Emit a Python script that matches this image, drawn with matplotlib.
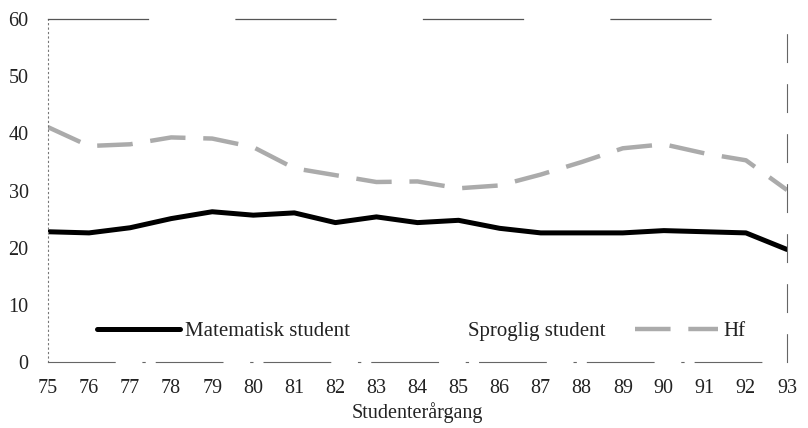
import matplotlib
matplotlib.use("Agg")
import matplotlib.pyplot as plt
from matplotlib.lines import Line2D

plt.rcParams['font.family'] = ['Liberation Serif', 'DejaVu Serif']

# data
years = [75, 76, 77, 78, 79, 80, 81, 82, 83, 84, 85, 86, 87, 88, 89, 90, 91, 92, 93]
matematisk = [22.8, 22.6, 23.5, 25.1, 26.3, 25.7, 26.1, 24.4, 25.4, 24.4, 24.8,
              23.4, 22.6, 22.6, 22.6, 23.0, 22.8, 22.6, 19.7]
hf = [41.1, 37.8, 38.1, 39.3, 39.1, 37.6, 33.9, 32.7, 31.5, 31.6, 30.4,
      30.9, 32.8, 35.0, 37.4, 38.1, 36.5, 35.3, 30.1]
y_ticks = [0, 10, 20, 30, 40, 50, 60]
labels = ['Matematisk student', 'Sproglig student', 'Hf']

fig = plt.figure(figsize=(8.08, 4.28), dpi=100)
ax = fig.add_axes([0.0594, 0.154, 0.9146, 0.8014])

l_mat, = ax.plot(years, matematisk, color='black', lw=3.6, solid_capstyle='round')
l_hf, = ax.plot(years, hf, color='#ababab', lw=3.2, dashes=(8, 4))

ax.set_xlim(75, 93)
ax.set_ylim(0, 60)
ax.set_xticks(years)
ax.set_xticklabels([str(y) for y in years])
ax.set_yticks(y_ticks)
ax.tick_params(length=0, labelsize=14.5, colors='#222222')
ax.tick_params(axis='x', pad=12)
ax.tick_params(axis='y', pad=14)

# scanned frame: broken, faint lines
ax.spines['top'].set_color('#555555')
ax.spines['top'].set_linewidth(0.9)
ax.spines['top'].set_linestyle((0, (80, 70)))
ax.spines['left'].set_color('#777777')
ax.spines['left'].set_linewidth(0.8)
ax.spines['left'].set_linestyle((0, (1, 3)))
ax.spines['right'].set_color('#666666')
ax.spines['right'].set_linewidth(0.8)
ax.spines['right'].set_linestyle((0, (25, 20)))
ax.spines['bottom'].set_color('#666666')
ax.spines['bottom'].set_linewidth(0.8)
ax.spines['bottom'].set_linestyle((0, (60, 25, 2, 10)))

ax.set_xlabel('Studenterårgang', fontsize=14.5, labelpad=3, color='#222222')

blank = Line2D([], [], color='none')
ax.legend([l_mat, blank, l_hf], labels, ncol=3, frameon=False, fontsize=15,
          loc='center left', bbox_to_anchor=(0.066, 0.09), borderpad=0,
          borderaxespad=0, handlelength=4.0, handletextpad=0.25,
          columnspacing=1.4, labelcolor='#222222')

fig.savefig('out.png', dpi=100)
